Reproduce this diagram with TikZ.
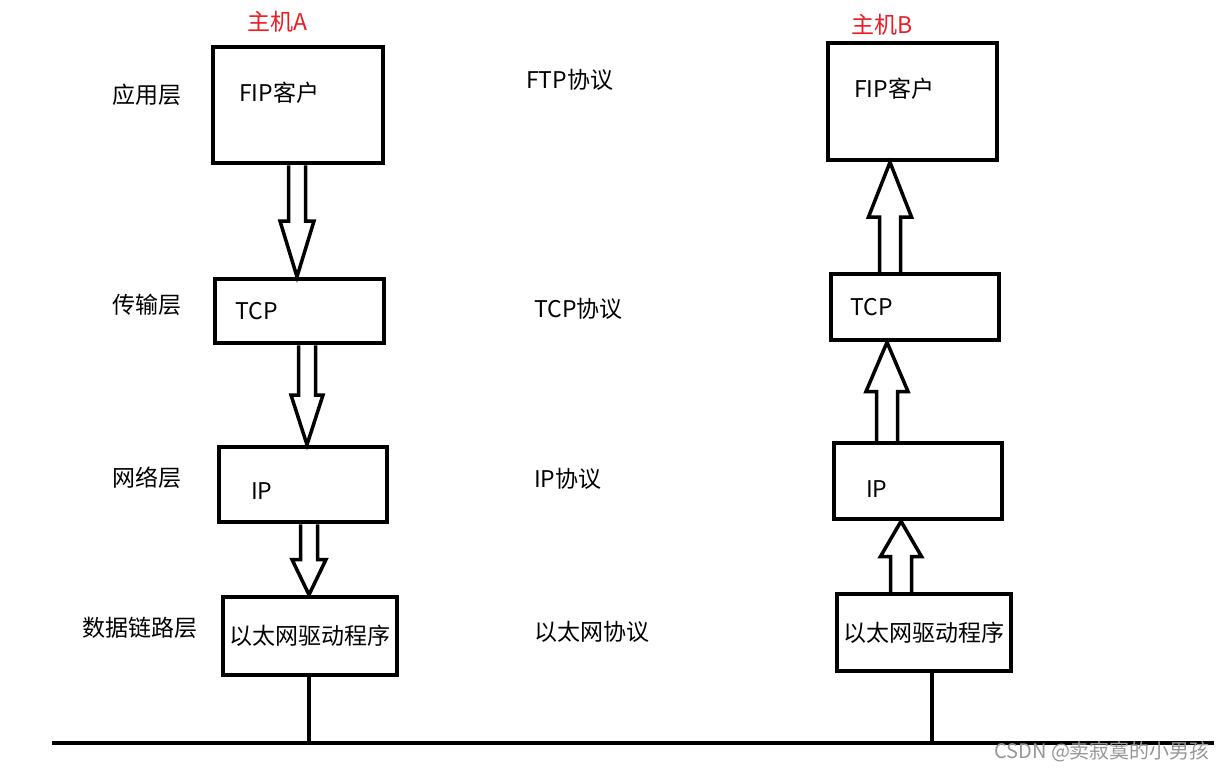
\documentclass[tikz,border=0pt]{standalone}
\usepackage{fontspec}
\setmainfont{Noto Sans CJK SC}
\usetikzlibrary{calc}
\definecolor{hostred}{RGB}{237,28,36}
\definecolor{markgray}{RGB}{150,150,150}
% hollow block arrow from #1 to #2, shaft half width #3, head half width #4
\newcommand\blockarrow[4]{%
  \coordinate (neck) at ($(#1)!0.5!(#2)$);
  \draw[blk] ($(#1)+(-#3,0)$) -- ($(neck)+(-#3,0)$) -- ($(neck)+(-#4,0)$) -- (#2)
    -- ($(neck)+(#4,0)$) -- ($(neck)+(#3,0)$) -- ($(#1)+(#3,0)$);}

\begin{document}
\begin{tikzpicture}[x=1bp,y=-1bp, box/.style={rectangle,draw,line width=4.5bp,inner sep=0pt}, blk/.style={line width=3.5bp,line join=miter}, txt/.style={font=\fontsize{23bp}{27bp}\selectfont,inner sep=0pt,anchor=west}, host/.style={txt,text=hostred}, wire/.style={line width=4bp}]
\useasboundingbox (0,0) rectangle (1224,772);
% host A
\node[host] (hostA) at (247,22) {主机A};
\node[box,minimum width=170bp,minimum height=116bp] (appA) at (298,105) {};
\node[box,minimum width=169bp,minimum height=64bp] (tcpA) at (299.5,311) {};
\node[box,minimum width=168bp,minimum height=75bp] (ipA) at (303,484.5) {};
\node[box,minimum width=174bp,minimum height=78bp,font=\fontsize{23bp}{27bp}\selectfont] (ethA) at (310,636) {以太网驱动程序};
\node[txt] (appAt) at (239,93) {FIP客户};
\node[txt] (tcpAt) at (235,311) {TCP};
\node[txt] (ipAt) at (251,491) {IP};
% host B
\node[host] (hostB) at (851,25) {主机B};
\node[box,minimum width=169bp,minimum height=117bp] (appB) at (912.5,101.5) {};
\node[box,minimum width=168bp,minimum height=66bp] (tcpB) at (915,307) {};
\node[box,minimum width=168bp,minimum height=76bp] (ipB) at (918,481) {};
\node[box,minimum width=174bp,minimum height=77bp,font=\fontsize{23bp}{27bp}\selectfont] (ethB) at (924,632.5) {以太网驱动程序};
\node[txt] (appBt) at (854,89) {FIP客户};
\node[txt] (tcpBt) at (850,307) {TCP};
\node[txt] (ipBt) at (866,489) {IP};
% layer names
\node[txt] (l1) at (112,95) {应用层};
\node[txt] (l2) at (112,305) {传输层};
\node[txt] (l3) at (112,478) {网络层};
\node[txt] (l4) at (82,628) {数据链路层};
% protocols
\node[txt] (p1) at (526,80) {FTP协议};
\node[txt] (p2) at (534,309) {TCP协议};
\node[txt] (p3) at (534,479) {IP协议};
\node[txt] (p4) at (534,632) {以太网协议};
% arrows down in A
\coordinate (a1) at ($(appA.south)+(-1,0)$);
\blockarrow{a1}{tcpA.north -| a1}{8.5}{17}
\coordinate (a2) at ($(tcpA.south)+(7.5,0)$);
\blockarrow{a2}{ipA.north -| a2}{8.5}{16}
\coordinate (a3) at ($(ipA.south)+(6,0)$);
\blockarrow{a3}{ethA.north -| a3}{8.5}{17}
% arrows up in B
\coordinate (b1) at ($(tcpB.north)+(-25,0)$);
\blockarrow{b1}{appB.south -| b1}{10.5}{21.5}
\coordinate (b2) at ($(ipB.north)+(-31,0)$);
\blockarrow{b2}{tcpB.south -| b2}{10.5}{21}
\coordinate (b3) at ($(ethB.north)+(-23,0)$);
\blockarrow{b3}{ipB.south -| b3}{10.5}{20.5}
% bus
\coordinate (busL) at (52,743);
\coordinate (busR) at (1214,743);
\draw[wire] (busL) -- (busR);
\coordinate (tapA) at (309,743);
\coordinate (tapB) at (932,745);
\draw[wire] (ethA.south -| tapA) -- (tapA);
\draw[wire] (ethB.south -| tapB) -- (tapB);
\node[txt,font=\fontsize{20bp}{24bp}\selectfont,text=markgray] (mark) at (994,752) {CSDN @卖寂寞的小男孩};
\end{tikzpicture}
\end{document}
